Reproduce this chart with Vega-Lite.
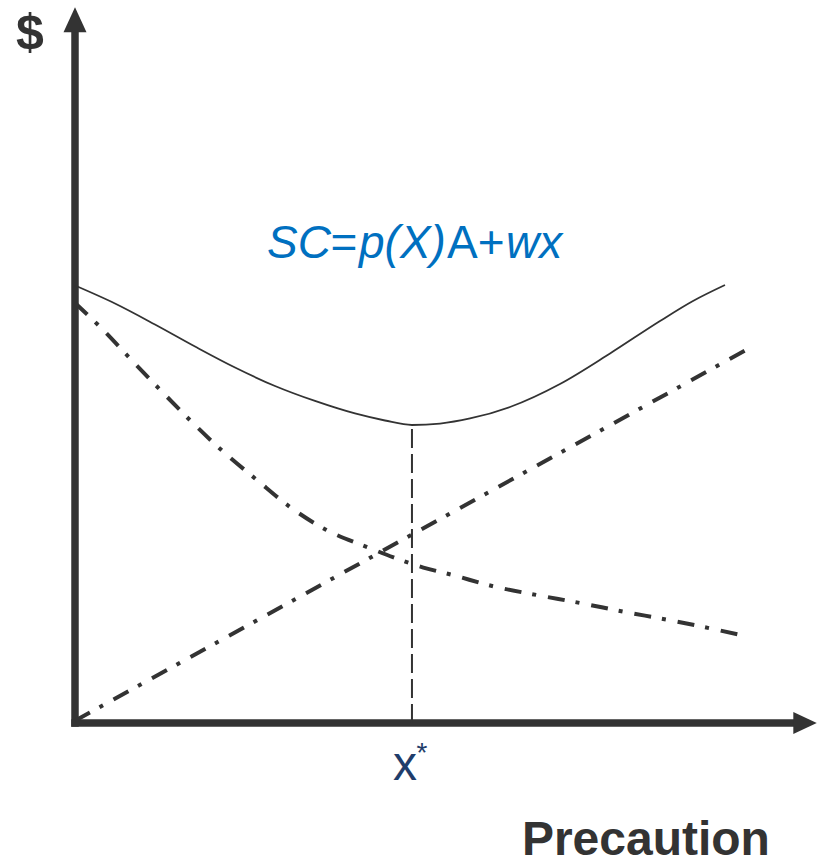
{
  "$schema": "https://vega.github.io/schema/vega-lite/v6.json",
  "width": 746,
  "height": 723,
  "autosize": {"type": "none"},
  "padding": {"left": 75, "top": 0, "right": 0, "bottom": 142},
  "background": "white",
  "config": {"view": {"stroke": null}},
  "datasets": {
    "socialCost": [
      {"x": 0, "y": 60.51}, {"x": 5.36, "y": 58.02}, {"x": 10.72, "y": 55.12}, {"x": 16.09, "y": 52.07},
      {"x": 21.45, "y": 49.17}, {"x": 26.81, "y": 46.61}, {"x": 32.17, "y": 44.54}, {"x": 37.53, "y": 42.81},
      {"x": 41.55, "y": 41.84}, {"x": 45.17, "y": 41.22}, {"x": 48.93, "y": 41.42}, {"x": 52.95, "y": 42.12},
      {"x": 58.31, "y": 43.71}, {"x": 65.01, "y": 46.89}, {"x": 71.72, "y": 51.11}, {"x": 78.42, "y": 55.6},
      {"x": 82.84, "y": 58.37}, {"x": 87.13, "y": 60.58}
    ],
    "precautionCost": [
      {"x": 0, "y": 0.3}, {"x": 89.8, "y": 51.5}
    ],
    "expectedLoss": [
      {"x": 0, "y": 58.1}, {"x": 3.35, "y": 54.8}, {"x": 7.4, "y": 50.4}, {"x": 11.4, "y": 46.1},
      {"x": 15.6, "y": 41.7}, {"x": 19.9, "y": 37.5}, {"x": 24.4, "y": 33.6}, {"x": 28.8, "y": 29.9},
      {"x": 33.7, "y": 26.7}, {"x": 39.5, "y": 24.2}, {"x": 42.7, "y": 22.9}, {"x": 46.7, "y": 21.5},
      {"x": 50.5, "y": 20.5}, {"x": 56.1, "y": 18.9}, {"x": 61.9, "y": 17.7}, {"x": 67.7, "y": 16.6},
      {"x": 73.5, "y": 15.4}, {"x": 79.3, "y": 14.3}, {"x": 85.1, "y": 13.1}, {"x": 89.1, "y": 12.2}
    ]
  },
  "layer": [
    {
      "data": {"values": [{"x": 0, "x2": 0, "y": 0, "y2": 95.6}, {"x": 0, "x2": 96.4, "y": 0, "y2": 0}]},
      "mark": {"type": "rule", "color": "#333333", "strokeWidth": 7.5, "strokeCap": "square"},
      "encoding": {
        "x": {"field": "x", "type": "quantitative", "scale": {"domain": [0, 100], "nice": false, "zero": false}, "axis": null},
        "x2": {"field": "x2"},
        "y": {"field": "y", "type": "quantitative", "scale": {"domain": [0, 100], "nice": false, "zero": false}, "axis": null},
        "y2": {"field": "y2"}
      }
    },
    {
      "data": {"values": [{"x": 0, "y": 97.26}]},
      "mark": {"type": "point", "shape": "M0,-1L0.92,1L-0.92,1Z", "size": 625, "filled": true, "opacity": 1, "color": "#333333", "strokeWidth": 0},
      "encoding": {
        "x": {"field": "x", "type": "quantitative"},
        "y": {"field": "y", "type": "quantitative"}
      }
    },
    {
      "data": {"values": [{"x": 97.86, "y": 0}]},
      "mark": {"type": "point", "shape": "M1,0L-1,-0.95L-1,0.95Z", "size": 548, "filled": true, "opacity": 1, "color": "#333333", "strokeWidth": 0},
      "encoding": {
        "x": {"field": "x", "type": "quantitative"},
        "y": {"field": "y", "type": "quantitative"}
      }
    },
    {
      "data": {"values": [{"x": 45.17, "y": 0, "y2": 41.22}]},
      "mark": {"type": "rule", "color": "#333333", "strokeWidth": 2, "strokeDash": [19, 6]},
      "encoding": {
        "x": {"field": "x", "type": "quantitative"},
        "y": {"field": "y", "type": "quantitative"},
        "y2": {"field": "y2"}
      }
    },
    {
      "data": {"name": "precautionCost"},
      "mark": {"type": "line", "color": "#333333", "strokeWidth": 4, "strokeDash": [17, 11, 4, 12]},
      "encoding": {
        "x": {"field": "x", "type": "quantitative"},
        "y": {"field": "y", "type": "quantitative"}
      }
    },
    {
      "data": {"name": "expectedLoss"},
      "mark": {"type": "line", "color": "#333333", "strokeWidth": 4, "strokeDash": [17, 11, 4, 12], "interpolate": "monotone"},
      "encoding": {
        "x": {"field": "x", "type": "quantitative"},
        "y": {"field": "y", "type": "quantitative"}
      }
    },
    {
      "data": {"name": "socialCost"},
      "mark": {"type": "line", "color": "#333333", "strokeWidth": 1.8, "interpolate": "monotone"},
      "encoding": {
        "x": {"field": "x", "type": "quantitative"},
        "y": {"field": "y", "type": "quantitative"}
      }
    },
    {
      "data": {"values": [{"t": "SC", "x": 25.74, "y": 64.32}, {"t": "p(X)", "x": 38.07, "y": 64.32}, {"t": "wx", "x": 57.78, "y": 64.32}]},
      "mark": {"type": "text", "font": "Liberation Sans", "fontSize": 46, "fontStyle": "italic", "color": "#0070c0", "align": "left", "baseline": "alphabetic"},
      "encoding": {
        "x": {"field": "x", "type": "quantitative"},
        "y": {"field": "y", "type": "quantitative"},
        "text": {"field": "t"}
      }
    },
    {
      "data": {"values": [{"t": "=", "x": 34.25, "y": 64.32}, {"t": "A+", "x": 49.87, "y": 64.32}]},
      "mark": {"type": "text", "font": "Liberation Sans", "fontSize": 46, "color": "#0070c0", "align": "left", "baseline": "alphabetic"},
      "encoding": {
        "x": {"field": "x", "type": "quantitative"},
        "y": {"field": "y", "type": "quantitative"},
        "text": {"field": "t"}
      }
    },
    {
      "data": {"values": [{"t": "$", "x": -6.03, "y": 93.19}]},
      "mark": {"type": "text", "font": "Liberation Sans", "fontSize": 50, "fontWeight": "bold", "color": "#333333", "align": "center", "baseline": "alphabetic"},
      "encoding": {
        "x": {"field": "x", "type": "quantitative"},
        "y": {"field": "y", "type": "quantitative"},
        "text": {"field": "t"}
      }
    },
    {
      "data": {"values": [{"t": "Precaution", "x": 76.53, "y": -18.3}]},
      "mark": {"type": "text", "font": "Liberation Sans", "fontSize": 48, "fontWeight": "bold", "color": "#333333", "align": "center", "baseline": "alphabetic"},
      "encoding": {
        "x": {"field": "x", "type": "quantitative"},
        "y": {"field": "y", "type": "quantitative"},
        "text": {"field": "t"}
      }
    },
    {
      "data": {"values": [{"t": "x", "x": 44.24, "y": -7.88}]},
      "mark": {"type": "text", "font": "Liberation Sans", "fontSize": 48, "color": "#1f3d6b", "align": "center", "baseline": "alphabetic"},
      "encoding": {
        "x": {"field": "x", "type": "quantitative"},
        "y": {"field": "y", "type": "quantitative"},
        "text": {"field": "t"}
      }
    },
    {
      "data": {"values": [{"t": "*", "x": 45.77, "y": -5.39}]},
      "mark": {"type": "text", "font": "Liberation Sans", "fontSize": 28, "color": "#1f3d6b", "align": "left", "baseline": "alphabetic"},
      "encoding": {
        "x": {"field": "x", "type": "quantitative"},
        "y": {"field": "y", "type": "quantitative"},
        "text": {"field": "t"}
      }
    }
  ]
}
